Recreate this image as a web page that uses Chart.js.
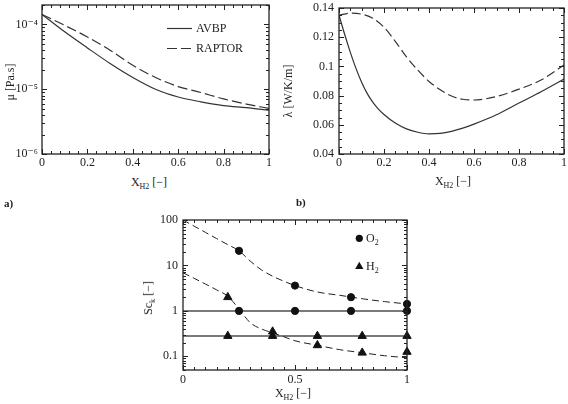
<!DOCTYPE html>
<html><head><meta charset="utf-8">
<script src="https://cdn.jsdelivr.net/npm/chart.js"></script>
<style>
html,body{margin:0;padding:0;background:#fff}
body{position:relative;width:568px;height:404px;overflow:hidden;font-family:"Liberation Serif","DejaVu Serif",serif;color:#222}
canvas{position:absolute}
.t{position:absolute;font-size:12px;line-height:12px;white-space:nowrap}
.t sub{font-size:8px;line-height:0;vertical-align:-3px}
.c{transform:translate(-50%,-50%)}
.r{transform:translate(-50%,-50%) rotate(-90deg)}
.lab{font-weight:bold;font-size:11px}
</style></head><body>
<canvas id="ca" width="285" height="175" style="left:0;top:0"></canvas>
<canvas id="cb" width="278" height="175" style="left:290px;top:0"></canvas>
<canvas id="cc" width="290" height="178" style="left:130px;top:212px"></canvas>
<div class="t r" style="left:10px;top:82px">μ [Pa.s]</div>
<div class="t c" style="left:149px;top:182px">X<sub>H2</sub> [−]</div>
<div class="t lab" style="left:4px;top:197px">a)</div>
<div class="t" style="left:196px;top:22px">AVBP</div>
<div class="t" style="left:196px;top:42px">RAPTOR</div>
<div class="t r" style="left:288px;top:91px">λ [W/K/m]</div>
<div class="t c" style="left:453px;top:181px">X<sub>H2</sub> [−]</div>
<div class="t lab" style="left:296px;top:196px">b)</div>
<div class="t r" style="left:148px;top:298px">Sc<sub>k</sub> [−]</div>
<div class="t c" style="left:293px;top:393px">X<sub>H2</sub> [−]</div>
<div class="t" style="left:366px;top:232px">O<sub>2</sub></div>
<div class="t" style="left:366px;top:260px">H<sub>2</sub></div>
<script>
const FONT = '"Liberation Serif","DejaVu Serif",serif';

// ---- Panel a: viscosity ----
const A_X = [0, 0.1, 0.2, 0.3, 0.4, 0.5, 0.6, 0.7, 0.8, 0.9, 1];
const A_AVBP = [1.43e-4, 7.7e-5, 4.35e-5, 2.5e-5, 1.52e-5, 1.0e-5, 7.6e-6, 6.4e-6, 5.6e-6, 5.2e-6, 4.75e-6];
const A_RAPTOR = [1.43e-4, 9.7e-5, 6.4e-5, 4.0e-5, 2.35e-5, 1.52e-5, 1.1e-5, 8.9e-6, 7.1e-6, 5.9e-6, 5.05e-6];
const A_X_MAJOR = [0, 0.2, 0.4, 0.6, 0.8, 1];
const A_X_LABELS = ['0', '0.2', '0.4', '0.6', '0.8', '1'];
const A_Y_MAJOR = [1e-6, 1e-5, 1e-4];
const A_Y_LABELS = ['10⁻⁶', '10⁻⁵', '10⁻⁴'];

// ---- Panel b: conductivity ----
const B_X_AVBP = [0, 0.025, 0.05, 0.075, 0.1, 0.125, 0.15, 0.175, 0.2, 0.25, 0.3, 0.35, 0.4, 0.45, 0.5, 0.55, 0.6, 0.7, 0.8, 0.9, 1];
const B_AVBP = [0.1352, 0.1220, 0.1098, 0.0988, 0.0893, 0.0815, 0.0755, 0.0708, 0.0671, 0.0612, 0.0572, 0.0549, 0.0538, 0.0541, 0.0555, 0.0577, 0.0605, 0.0669, 0.0749, 0.0828, 0.0913];
const B_X_RAPTOR = [0, 0.05, 0.1, 0.15, 0.2, 0.25, 0.3, 0.35, 0.4, 0.45, 0.5, 0.55, 0.6, 0.7, 0.8, 0.9, 1];
const B_RAPTOR = [0.135, 0.1365, 0.1358, 0.1330, 0.1268, 0.1172, 0.1065, 0.0975, 0.0897, 0.0840, 0.0797, 0.0775, 0.0770, 0.0794, 0.0844, 0.0908, 0.101];
const B_X_MAJOR = [0, 0.2, 0.4, 0.6, 0.8, 1];
const B_X_LABELS = ['0', '0.2', '0.4', '0.6', '0.8', '1'];
const B_Y_MAJOR = [0.04, 0.06, 0.08, 0.1, 0.12, 0.14];
const B_Y_LABELS = ['0.04', '0.06', '0.08', '0.1', '0.12', '0.14'];

// ---- Panel c: Schmidt numbers ----
const C_FIT_X = [0, 0.05, 0.1, 0.15, 0.2, 0.25, 0.3, 0.35, 0.4, 0.45, 0.5, 0.6, 0.7, 0.8, 0.9, 1];
const C_O2_FIT = [100, 73, 53.5, 39, 28.7, 21, 12.5, 8, 5.8, 4.5, 3.6, 2.6, 2.2, 1.85, 1.6, 1.42];
const C_H2_FIT = [6.9, 5.2, 3.9, 2.9, 2.1, 1.1, 0.55, 0.4, 0.33, 0.27, 0.22, 0.175, 0.14, 0.12, 0.103, 0.093];
const C_O2_X = [0.25, 0.5, 0.75, 1];
const C_O2_VAR = [21, 3.6, 2.0, 1.42];
const C_O2_CONST = [1, 1, 1, 1];
const C_H2_X = [0.2, 0.4, 0.6, 0.8, 1];
const C_H2_VAR = [2.0, 0.35, 0.175, 0.12, 0.125];
const C_H2_CONST = [0.28, 0.28, 0.28, 0.28, 0.28];
const C_LINE_X = [0, 1];
const C_O2_LINE = [1, 1];
const C_H2_LINE = [0.28, 0.28];
const C_X_MAJOR = [0, 0.5, 1];
const C_X_LABELS = ['0', '0.5', '1'];
const C_Y_MAJOR = [0.1, 1, 10, 100];
const C_Y_LABELS = ['0.1', '1', '10', '100'];

function pts(xs, ys) { return xs.map((x, i) => ({ x: x, y: ys[i] })); }
function linTicks(min, max, step) {
  const a = []; const n = Math.round((max - min) / step);
  for (let i = 0; i <= n; i++) a.push(+(min + i * step).toFixed(6));
  return a;
}
function logTicks(min, max) {
  const a = [];
  for (let e = Math.floor(Math.log10(min)); e <= Math.ceil(Math.log10(max)); e++) {
    for (let m = 1; m < 10; m++) {
      const v = +(m * Math.pow(10, e)).toPrecision(6);
      if (v >= min * (1 - 1e-9) && v <= max * (1 + 1e-9)) a.push(v);
    }
  }
  return a;
}
function labelOf(v, majors, labels) {
  for (let i = 0; i < majors.length; i++) {
    if (Math.abs(v - majors[i]) <= Math.abs(majors[i]) * 1e-6 + 1e-12) return labels[i];
  }
  return '';
}
function axis(type, min, max, all, majors, labels, pad, horiz, size) {
  return {
    type: type, min: min, max: max,
    grid: { display: false, drawTicks: false }, border: { display: false },
    ticks: { autoSkip: false, maxRotation: 0, minRotation: 0, padding: pad, color: '#222',
      font: { family: FONT, size: 12 }, callback: (v) => labelOf(v, majors, labels) },
    afterBuildTicks(s) { s.ticks = all.map(v => ({ value: v })); },
    afterFit(s) {
      if (horiz) { s.height = size; s.paddingLeft = 0; s.paddingRight = 0; }
      else { s.width = size; s.paddingTop = 0; s.paddingBottom = 0; }
    }
  };
}

const frameTicks = {
  id: 'frameTicks',
  afterDraw(chart) {
    const ctx = chart.ctx; const a = chart.chartArea;
    ctx.save();
    ctx.strokeStyle = '#222'; ctx.lineWidth = 1; ctx.setLineDash([]);
    for (const s of Object.values(chart.scales)) {
      s.ticks.forEach(t => {
        const p = Math.round(s.getPixelForValue(t.value)) + 0.5;
        const L = (t.label !== '' && t.label != null) ? 5 : 3;
        ctx.beginPath();
        if (s.isHorizontal()) {
          ctx.moveTo(p, a.bottom); ctx.lineTo(p, a.bottom - L);
          ctx.moveTo(p, a.top); ctx.lineTo(p, a.top + L);
        } else {
          ctx.moveTo(a.left, p); ctx.lineTo(a.left + L, p);
          ctx.moveTo(a.right, p); ctx.lineTo(a.right - L, p);
        }
        ctx.stroke();
      });
    }
    ctx.lineWidth = 1.3;
    ctx.strokeRect(a.left, a.top, a.right - a.left, a.bottom - a.top);
    ctx.restore();
  }
};

const legendA = {
  id: 'legendA',
  afterDraw(chart) {
    const ctx = chart.ctx; ctx.save();
    chart.data.datasets.forEach((d, i) => {
      const y = 28.5 + i * 20;
      ctx.strokeStyle = d.borderColor; ctx.lineWidth = d.borderWidth;
      ctx.setLineDash(d.borderDash || []);
      ctx.beginPath(); ctx.moveTo(167, y); ctx.lineTo(192, y); ctx.stroke();
    });
    ctx.restore();
  }
};

const legendC = {
  id: 'legendC',
  afterDraw(chart) {
    const ctx = chart.ctx; ctx.save(); ctx.fillStyle = '#111';
    ctx.beginPath(); ctx.arc(229.3, 26.3, 3.6, 0, Math.PI * 2); ctx.fill();
    const x = 229.3, y = 54.5, r = 4.8;
    ctx.beginPath();
    ctx.moveTo(x, y - r);
    ctx.lineTo(x + r * Math.sin(2 * Math.PI / 3), y + r / 2);
    ctx.lineTo(x - r * Math.sin(2 * Math.PI / 3), y + r / 2);
    ctx.closePath(); ctx.fill();
    ctx.restore();
  }
};

function baseOpts(pad, xAxis, yAxis) {
  return {
    responsive: false, animation: false, devicePixelRatio: 1,
    layout: { padding: pad },
    plugins: { legend: { display: false }, tooltip: { enabled: false } },
    elements: { point: { radius: 0 }, line: { cubicInterpolationMode: 'monotone' } },
    scales: { x: xAxis, y: yAxis }
  };
}

// Chart a
new Chart(document.getElementById('ca'), {
  type: 'line',
  data: { datasets: [
    { label: 'AVBP', data: pts(A_X, A_AVBP), borderColor: '#333', borderWidth: 1.2, fill: false },
    { label: 'RAPTOR', data: pts(A_X, A_RAPTOR), borderColor: '#333', borderWidth: 1.2, borderDash: [10, 4], fill: false }
  ] },
  options: baseOpts({ left: 0, top: 5, right: 16, bottom: 0 },
    axis('linear', 0, 1, linTicks(0, 1, 0.04), A_X_MAJOR, A_X_LABELS, 2, true, 21),
    axis('logarithmic', 1e-6, 2e-4, logTicks(1e-6, 2e-4), A_Y_MAJOR, A_Y_LABELS, 4, false, 42)),
  plugins: [frameTicks, legendA]
});

// Chart b
new Chart(document.getElementById('cb'), {
  type: 'line',
  data: { datasets: [
    { label: 'AVBP', data: pts(B_X_AVBP, B_AVBP), borderColor: '#333', borderWidth: 1.2, fill: false },
    { label: 'RAPTOR', data: pts(B_X_RAPTOR, B_RAPTOR), borderColor: '#333', borderWidth: 1.2, borderDash: [9, 4], fill: false }
  ] },
  options: baseOpts({ left: 0, top: 8, right: 4, bottom: 0 },
    axis('linear', 0, 1, linTicks(0, 1, 0.05), B_X_MAJOR, B_X_LABELS, 2, true, 21),
    axis('linear', 0.04, 0.14, linTicks(0.04, 0.14, 0.005), B_Y_MAJOR, B_Y_LABELS, 5, false, 49)),
  plugins: [frameTicks]
});

// Chart c
new Chart(document.getElementById('cc'), {
  type: 'line',
  data: { datasets: [
    { label: 'O2', data: pts(C_O2_X, C_O2_VAR), showLine: false, pointStyle: 'circle', pointRadius: 3.6, pointBackgroundColor: '#111', pointBorderColor: '#111', clip: false },
    { label: 'O2 const', data: pts(C_O2_X, C_O2_CONST), showLine: false, pointStyle: 'circle', pointRadius: 3.6, pointBackgroundColor: '#111', pointBorderColor: '#111', clip: false },
    { label: 'H2', data: pts(C_H2_X, C_H2_VAR), showLine: false, pointStyle: 'triangle', pointRadius: 4.8, pointBackgroundColor: '#111', pointBorderColor: '#111', clip: false },
    { label: 'H2 const', data: pts(C_H2_X, C_H2_CONST), showLine: false, pointStyle: 'triangle', pointRadius: 4.8, pointBackgroundColor: '#111', pointBorderColor: '#111', clip: false },
    { label: 'O2 fit', data: pts(C_FIT_X, C_O2_FIT), borderColor: '#222', borderWidth: 1, borderDash: [7, 4], fill: false },
    { label: 'H2 fit', data: pts(C_FIT_X, C_H2_FIT), borderColor: '#222', borderWidth: 1, borderDash: [7, 4], fill: false },
    { label: 'O2 line', data: pts(C_LINE_X, C_O2_LINE), borderColor: '#7a7a7a', borderWidth: 2, fill: false },
    { label: 'H2 line', data: pts(C_LINE_X, C_H2_LINE), borderColor: '#7a7a7a', borderWidth: 2, fill: false }
  ] },
  options: baseOpts({ left: 0, top: 8, right: 13, bottom: 0 },
    axis('linear', 0, 1, linTicks(0, 1, 0.05), C_X_MAJOR, C_X_LABELS, 3, true, 20),
    axis('logarithmic', 0.05, 100, logTicks(0.05, 100), C_Y_MAJOR, C_Y_LABELS, 5, false, 53)),
  plugins: [frameTicks, legendC]
});
</script>
</body></html>
